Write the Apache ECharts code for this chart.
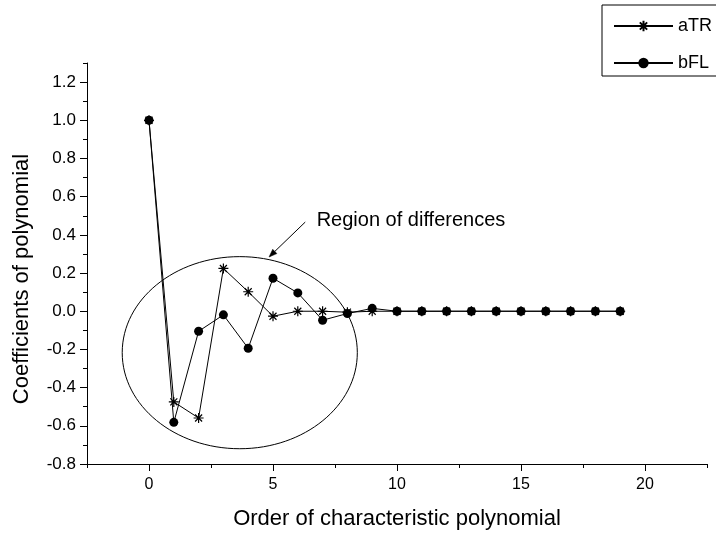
<!DOCTYPE html>
<html>
<head>
<meta charset="utf-8">
<script src="https://cdn.jsdelivr.net/npm/echarts@6/dist/echarts.min.js"></script>
<style>
  html, body { margin: 0; padding: 0; background: #ffffff; }
  #chart { width: 716px; height: 536px; }
</style>
</head>
<body>
<div id="chart"></div>
<script>
// Polynomial order (x) and coefficients of the two characteristic polynomials
const orders = [0, 1, 2, 3, 4, 5, 6, 7, 8, 9, 10, 11, 12, 13, 14, 15, 16, 17, 18, 19];
const aTR = [1.0, -0.475, -0.559, 0.224, 0.102, -0.026, 0.0, 0.0, -0.005, 0.0,
             0.0, 0.0, 0.0, 0.0, 0.0, 0.0, 0.0, 0.0, 0.0, 0.0];
const bFL = [1.0, -0.582, -0.105, -0.019, -0.194, 0.173, 0.096, -0.047, -0.012, 0.015,
             0.0, 0.0, 0.0, 0.0, 0.0, 0.0, 0.0, 0.0, 0.0, 0.0];

// Tick labels
const xMajorTicks = [0, 5, 10, 15, 20];
const yMajorTicks = [-0.8, -0.6, -0.4, -0.2, 0.0, 0.2, 0.4, 0.6, 0.8, 1.0, 1.2];

// Annotation, in data coordinates
const regionCenter = [3.66, -0.217];
const regionRadius = [4.74, 0.503];
const arrowFrom = [6.30, 0.467];
const arrowTo = [4.84, 0.284];
const noteAnchor = [6.76, 0.477];
const noteText = 'Region of differences';

const FONT = '"Liberation Sans", Arial, Helvetica, sans-serif';
const BLACK = '#000000';

// Asterisk marker drawn as strokes
const STAR = 'path://M5 0L5 10M0 5L10 5M1.5 1.5L8.5 8.5M8.5 1.5L1.5 8.5';

const pairs = ys => orders.map((x, i) => [x, ys[i]]);

const hiddenAxisBits = {
  axisLine: { show: false, onZero: false },
  axisLabel: { show: false },
  splitLine: { show: false }
};

const option = {
  animation: false,
  backgroundColor: '#ffffff',
  grid: { left: 87, right: 9, top: 63, bottom: 72, containLabel: false, outerBoundsMode: 'none' },
  xAxis: [
    {
      type: 'value', min: -2.5, max: 22.5, position: 'bottom',
      axisLine: { show: true, onZero: false, lineStyle: { color: BLACK, width: 1 } },
      axisTick: { show: true, customValues: xMajorTicks, length: 7, lineStyle: { color: BLACK, width: 1 } },
      axisLabel: { customValues: xMajorTicks, color: BLACK, fontSize: 16, fontFamily: FONT, margin: 13 },
      splitLine: { show: false }
    },
    Object.assign({
      type: 'value', min: -2.5, max: 22.5, interval: 2.5, position: 'bottom',
      axisTick: { show: true, length: 4, lineStyle: { color: BLACK, width: 1 } }
    }, hiddenAxisBits)
  ],
  yAxis: [
    {
      type: 'value', min: -0.8, max: 1.3, position: 'left',
      axisLine: { show: true, onZero: false, lineStyle: { color: BLACK, width: 1 } },
      axisTick: { show: true, customValues: yMajorTicks, length: 7, lineStyle: { color: BLACK, width: 1 } },
      axisLabel: {
        customValues: yMajorTicks, color: BLACK, fontSize: 17, fontFamily: FONT, margin: 11,
        formatter: v => v.toFixed(1)
      },
      splitLine: { show: false }
    },
    Object.assign({
      type: 'value', min: -0.8, max: 1.3, interval: 0.1, position: 'left',
      axisTick: { show: true, length: 4, lineStyle: { color: BLACK, width: 1 } }
    }, hiddenAxisBits)
  ],
  legend: {
    data: ['aTR', 'bFL'],
    orient: 'vertical',
    left: 613, top: 17,
    padding: 0,
    itemWidth: 59, itemHeight: 13, itemGap: 19,
    textStyle: { color: BLACK, fontSize: 18, fontFamily: FONT },
    inactiveColor: BLACK
  },
  series: [
    {
      name: 'aTR', type: 'line', xAxisIndex: 0, yAxisIndex: 0,
      data: pairs(aTR),
      symbol: STAR, symbolSize: 10,
      lineStyle: { color: BLACK, width: 1 },
      itemStyle: { color: BLACK, borderColor: BLACK, borderWidth: 1.2 },
      emphasis: { disabled: true },
      z: 2
    },
    {
      name: 'bFL', type: 'line', xAxisIndex: 0, yAxisIndex: 0,
      data: pairs(bFL),
      symbol: 'circle', symbolSize: 9,
      lineStyle: { color: BLACK, width: 1 },
      itemStyle: { color: BLACK, borderWidth: 0 },
      emphasis: { disabled: true },
      z: 3
    }
  ]
};

const chart = echarts.init(document.getElementById('chart'), null, { renderer: 'canvas' });
chart.setOption(option);

// Annotation and titles placed from the axis scales
const px = p => chart.convertToPixel({ xAxisIndex: 0, yAxisIndex: 0 }, p);
const c = px(regionCenter);
const edge = px([regionCenter[0] + regionRadius[0], regionCenter[1] + regionRadius[1]]);
const a0 = px(arrowFrom);
const a1 = px(arrowTo);
const note = px(noteAnchor);

const dx = a1[0] - a0[0], dy = a1[1] - a0[1];
const len = Math.sqrt(dx * dx + dy * dy);
const ux = dx / len, uy = dy / len;
const headLen = 8, headHalf = 3;
const base = [a1[0] - ux * headLen, a1[1] - uy * headLen];
const head = [
  a1,
  [base[0] - uy * headHalf, base[1] + ux * headHalf],
  [base[0] + uy * headHalf, base[1] - ux * headHalf]
];

chart.setOption({
  graphic: [
    {
      type: 'ellipse', silent: true, z: 1,
      shape: { cx: c[0], cy: c[1], rx: edge[0] - c[0], ry: c[1] - edge[1] },
      style: { fill: 'none', stroke: BLACK, lineWidth: 1 }
    },
    {
      type: 'line', silent: true,
      shape: { x1: a0[0], y1: a0[1], x2: base[0], y2: base[1] },
      style: { stroke: BLACK, lineWidth: 1 }
    },
    {
      type: 'polygon', silent: true,
      shape: { points: head },
      style: { fill: BLACK, stroke: BLACK, lineWidth: 0.5 }
    },
    {
      type: 'text', silent: true,
      x: note[0], y: note[1],
      style: { text: noteText, fill: BLACK, font: '20px ' + FONT, textAlign: 'left', textVerticalAlign: 'middle' }
    },
    {
      type: 'text', silent: true,
      x: 22, y: 279, rotation: Math.PI / 2,
      style: { text: 'Coefficients of polynomial', fill: BLACK, font: '22px ' + FONT, textAlign: 'center', textVerticalAlign: 'middle' }
    },
    {
      type: 'text', silent: true,
      x: 397, y: 519,
      style: { text: 'Order of characteristic polynomial', fill: BLACK, font: '22px ' + FONT, textAlign: 'center', textVerticalAlign: 'middle' }
    },
    {
      type: 'rect', silent: true,
      shape: { x: 602, y: 5, width: 140, height: 71 },
      style: { fill: 'none', stroke: BLACK, lineWidth: 1 }
    }
  ]
});
</script>
</body>
</html>
